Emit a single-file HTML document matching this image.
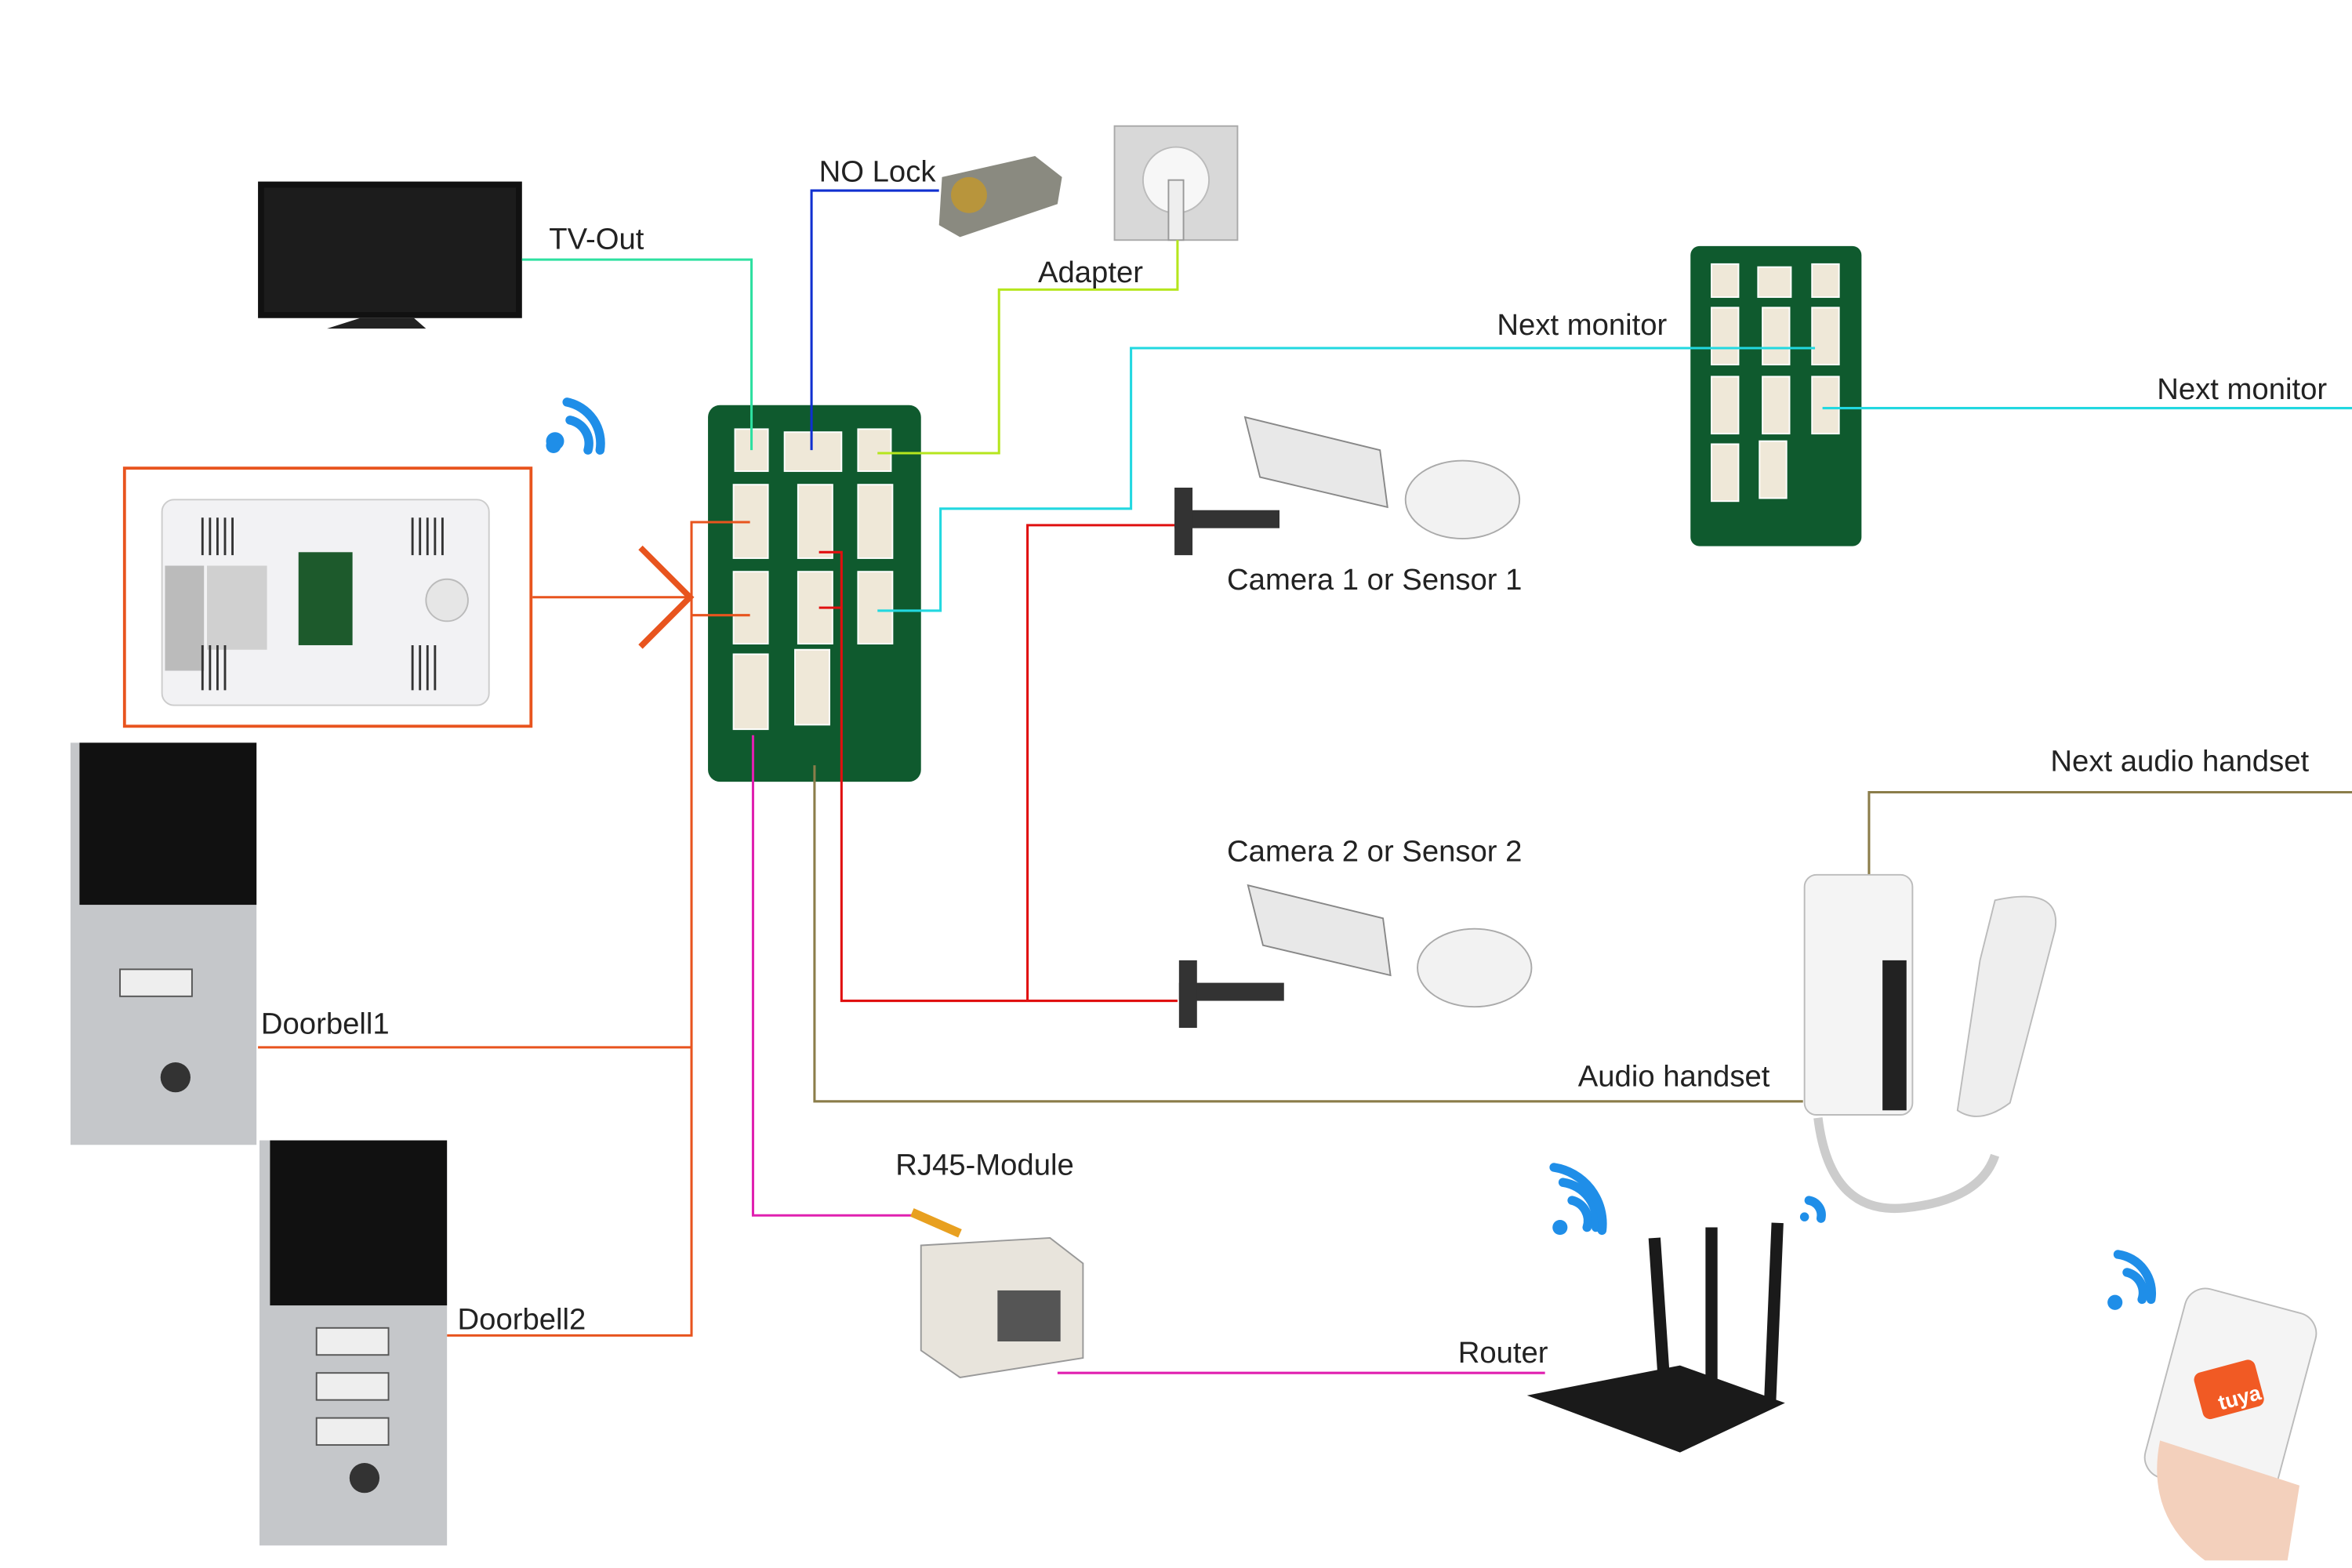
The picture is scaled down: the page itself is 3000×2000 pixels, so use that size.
<!DOCTYPE html>
<html><head><meta charset="utf-8"><style>html,body{margin:0;padding:0;background:#fff}svg{display:block}text{font-family:"Liberation Sans",sans-serif;font-size:20px;fill:#222}</style></head>
<body>
<svg width="3000" height="2000" viewBox="0 0 1568 1045" preserveAspectRatio="none" xmlns="http://www.w3.org/2000/svg">
<rect width="1568" height="1045" fill="#fff"/>
<!-- TV -->
<rect x="172" y="121" width="176" height="91" fill="#111"/>
<rect x="176" y="125" width="168" height="83" fill="#1c1c1c"/>
<path d="M240 212 L276 212 L284 219 L218 219 Z" fill="#222"/>
<!-- Monitor box -->
<rect x="83" y="312" width="271" height="172" fill="none" stroke="#e8541e" stroke-width="2"/>
<rect x="108" y="333" width="218" height="137" rx="8" fill="#f2f2f4" stroke="#ccc"/>
<rect x="110" y="377" width="26" height="70" fill="#bbb"/>
<rect x="138" y="377" width="40" height="56" fill="#d0d0d0"/>
<rect x="199" y="368" width="36" height="62" fill="#1d5a2c"/>
<circle cx="298" cy="400" r="14" fill="#e6e6e6" stroke="#bbb"/>
<g stroke="#333" stroke-width="1.5"><path d="M135 345v25M140 345v25M145 345v25M150 345v25M155 345v25M275 345v25M280 345v25M285 345v25M290 345v25M295 345v25M135 430v30M140 430v30M145 430v30M150 430v30M275 430v30M280 430v30M285 430v30M290 430v30"/></g>
<!-- orange arrow -->
<path d="M427 365 L460 398 L427 431" fill="none" stroke="#e8541e" stroke-width="4"/>
<!-- wifi icons -->
<g fill="#1f8ee8">
<path d="M370 300 a6 6 0 1 1 0.1 0Z"/>
</g>
<g fill="none" stroke="#1f8ee8" stroke-width="6" stroke-linecap="round">
<path d="M380 280 a16 16 0 0 1 12 20"/><path d="M378 268 a28 28 0 0 1 22 32"/>
<path d="M1048 800 a14 14 0 0 1 10 18"/><path d="M1042 788 a26 26 0 0 1 22 30"/><path d="M1036 778 a38 38 0 0 1 32 42"/>
<path d="M1206 800 a10 10 0 0 1 8 12"/>
<path d="M1418 848 a14 14 0 0 1 10 18"/><path d="M1412 836 a26 26 0 0 1 22 30"/>
</g>
<circle cx="369" cy="297" r="5" fill="#1f8ee8"/><circle cx="1040" cy="818" r="5" fill="#1f8ee8"/><circle cx="1410" cy="868" r="5" fill="#1f8ee8"/><circle cx="1203" cy="811" r="3" fill="#1f8ee8"/>
<!-- Lock & adapter -->
<path d="M628 118 L690 104 L708 118 L705 136 L640 158 L626 150 Z" fill="#8a8a80"/>
<circle cx="646" cy="130" r="12" fill="#b8953c"/>
<rect x="743" y="84" width="82" height="76" fill="#d8d8d8" stroke="#aaa"/>
<circle cx="784" cy="120" r="22" fill="#f7f7f7" stroke="#bbb"/>
<rect x="779" y="120" width="10" height="40" fill="#eee" stroke="#999"/>
<!-- PCBs -->
<g>
<rect x="472" y="270" width="142" height="251" rx="8" fill="#0f5a2e"/>
<g fill="#efe8d8" stroke="#fff">
<rect x="490" y="286" width="22" height="28"/><rect x="523" y="288" width="38" height="26"/><rect x="572" y="286" width="22" height="28"/>
<rect x="489" y="323" width="23" height="49"/><rect x="532" y="323" width="23" height="49"/><rect x="572" y="323" width="23" height="49"/>
<rect x="489" y="381" width="23" height="48"/><rect x="532" y="381" width="23" height="48"/><rect x="572" y="381" width="23" height="48"/>
<rect x="489" y="436" width="23" height="50"/><rect x="530" y="433" width="23" height="50"/>
</g>
<rect x="1127" y="164" width="114" height="200" rx="6" fill="#0f5a2e"/>
<g fill="#efe8d8" stroke="#fff">
<rect x="1141" y="176" width="18" height="22"/><rect x="1172" y="178" width="22" height="20"/><rect x="1208" y="176" width="18" height="22"/>
<rect x="1141" y="205" width="18" height="38"/><rect x="1175" y="205" width="18" height="38"/><rect x="1208" y="205" width="18" height="38"/>
<rect x="1141" y="251" width="18" height="38"/><rect x="1175" y="251" width="18" height="38"/><rect x="1208" y="251" width="18" height="38"/>
<rect x="1141" y="296" width="18" height="38"/><rect x="1173" y="294" width="18" height="38"/>
</g>
</g>
<!-- connector lines -->
<g fill="none" stroke-width="1.6">
<path d="M348 173H501V300" stroke="#2ee0a0"/>
<path d="M626 127H541V300" stroke="#1030d0"/>
<path d="M785 160V193H666V302H585" stroke="#b5e61d"/>
<path d="M1210 232H754V339H627V407H585" stroke="#22d8e0"/>
<path d="M1215 272H1568" stroke="#22d8e0"/>
<path d="M783 350H685V667H561V368H546M561 405H546M785 667H685" stroke="#e01010"/>
<path d="M355 398H461M500 348H461V890H298M461 698H172M500 410H461" stroke="#e8541e"/>
<path d="M502 490V810H610M705 915H1030" stroke="#e020b0"/>
<path d="M543 510V734H1202M1246 585V528H1568" stroke="#8b7d4a"/>
</g>
<!-- cameras -->
<g>
<path d="M830 278 L920 300 L925 338 L840 318 Z" fill="#e8e8e8" stroke="#888"/>
<rect x="783" y="340" width="70" height="12" fill="#333"/><rect x="783" y="325" width="12" height="45" fill="#333"/>
<ellipse cx="975" cy="333" rx="38" ry="26" fill="#f2f2f2" stroke="#aaa"/>
<path d="M832 590 L922 612 L927 650 L842 630 Z" fill="#e8e8e8" stroke="#888"/>
<rect x="786" y="655" width="70" height="12" fill="#333"/><rect x="786" y="640" width="12" height="45" fill="#333"/>
<ellipse cx="983" cy="645" rx="38" ry="26" fill="#f2f2f2" stroke="#aaa"/>
</g>
<!-- doorbells -->
<rect x="47" y="495" width="124" height="268" fill="#c5c7ca"/>
<rect x="53" y="495" width="118" height="108" fill="#111"/>
<rect x="80" y="646" width="48" height="18" fill="#eee" stroke="#555"/>
<circle cx="117" cy="718" r="10" fill="#333"/>
<rect x="173" y="760" width="125" height="270" fill="#c5c7ca"/>
<rect x="180" y="760" width="118" height="110" fill="#111"/>
<rect x="211" y="885" width="48" height="18" fill="#eee" stroke="#555"/>
<rect x="211" y="915" width="48" height="18" fill="#eee" stroke="#555"/>
<rect x="211" y="945" width="48" height="18" fill="#eee" stroke="#555"/>
<circle cx="243" cy="985" r="10" fill="#333"/>
<!-- handset -->
<rect x="1203" y="583" width="72" height="160" rx="8" fill="#f4f4f4" stroke="#bbb"/>
<rect x="1255" y="640" width="16" height="100" fill="#222"/>
<path d="M1330 600 Q1375 590 1370 620 L1340 735 Q1320 750 1305 740 L1320 640 Z" fill="#eee" stroke="#bbb"/>
<path d="M1212 745 Q1220 810 1270 805 Q1320 800 1330 770" fill="none" stroke="#ccc" stroke-width="6"/>
<!-- RJ45 -->
<path d="M614 830 L700 825 L722 842 L722 905 L640 918 L614 900 Z" fill="#e8e4dc" stroke="#999"/>
<rect x="665" y="860" width="42" height="34" fill="#555"/>
<path d="M608 808 L640 822" stroke="#e8a020" stroke-width="6"/>
<!-- router -->
<path d="M1018 930 L1120 910 L1190 935 L1120 968 Z" fill="#1a1a1a"/>
<path d="M1103 825 L1110 930 M1141 818 L1141 925 M1185 815 L1180 935" stroke="#1a1a1a" stroke-width="8"/>
<!-- phone -->
<rect x="1442" y="865" width="90" height="130" rx="14" fill="#f4f4f4" stroke="#bbb" transform="rotate(15 1487 930)"/>
<rect x="1465" y="910" width="42" height="32" rx="5" fill="#f15a24" transform="rotate(-15 1486 926)"/>
<path d="M1440 960 Q1430 1010 1470 1040 L1525 1040 L1533 990 Z" fill="#f3d0bc"/>
<!-- labels -->
<text x="366" y="166">TV-Out</text>
<text x="546" y="121">NO Lock</text>
<text x="692" y="188">Adapter</text>
<text x="998" y="223">Next monitor</text>
<text x="1438" y="266">Next monitor</text>
<text x="818" y="393">Camera 1 or Sensor 1</text>
<text x="818" y="574">Camera 2 or Sensor 2</text>
<text x="1367" y="514">Next audio handset</text>
<text x="174" y="689">Doorbell1</text>
<text x="1052" y="724">Audio handset</text>
<text x="597" y="783">RJ45-Module</text>
<text x="305" y="886">Doorbell2</text>
<text x="972" y="908">Router</text>
<text x="1478" y="938" style="font-size:14px;fill:#fff;font-weight:bold" transform="rotate(-15 1486 930)">tuya</text>
</svg>
</body></html>
